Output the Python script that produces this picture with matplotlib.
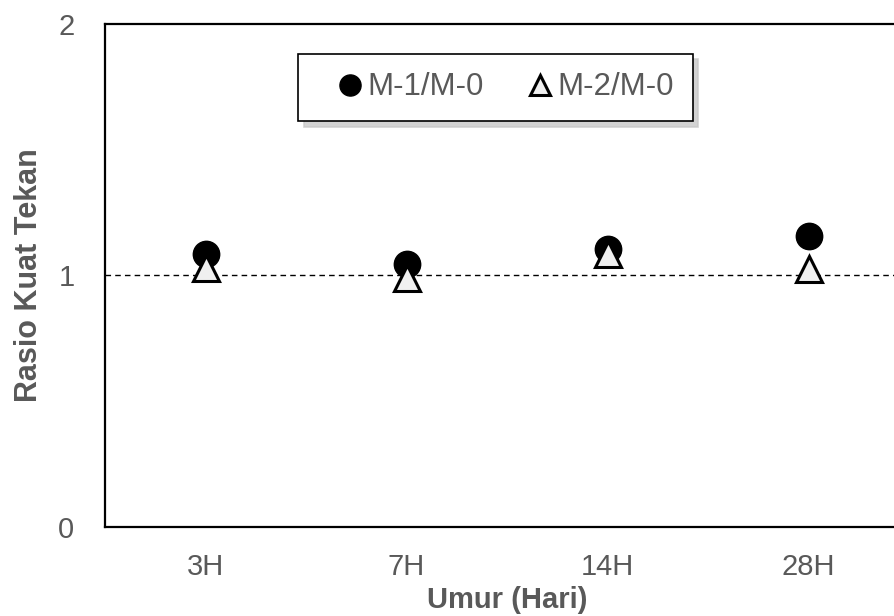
import matplotlib
matplotlib.use("Agg")
import matplotlib.pyplot as plt
import numpy as np

plt.rcParams['font.family'] = ['Liberation Sans', 'DejaVu Sans']

categories = ["3H", "7H", "14H", "28H"]
m1_ratio = [1.087, 1.046, 1.107, 1.158]
m2_ratio = [1.030, 0.992, 1.085, 1.024]
yticks = [0, 1, 2]

fig = plt.figure(figsize=(8.94, 6.16), dpi=100)
ax = fig.add_axes([105/894, 89/616, 804/894, 503/616])

x = np.arange(len(categories)) + 0.5
ax.axhline(1, color='black', lw=1.0, ls=(0, (4, 3)), zorder=1)
ax.plot(x, m1_ratio, 'o', ms=19, color='black', mec='black', zorder=3, label='M-1/M-0')
ax.plot(x, m2_ratio, '^', ms=19, mfc='#f0f0f0', mec='black', mew=2.2, zorder=4, label='M-2/M-0')

ax.set_xlim(0, 4)
ax.set_ylim(0, 2)
ax.set_xticks(x)
ax.set_xticklabels(categories)
ax.set_yticks(yticks)
ax.tick_params(length=0, labelsize=21, colors='#595959')
ax.tick_params(axis='x', pad=19)
ax.tick_params(axis='y', pad=22)
for s in ax.spines.values():
    s.set_linewidth(1.6)
    s.set_color('black')

ax.set_xlabel('Umur (Hari)', fontsize=21, fontweight='bold', color='#595959', labelpad=3)
ax.set_ylabel('Rasio Kuat Tekan', fontsize=22, fontweight='bold', color='#595959', labelpad=10)

leg = ax.legend(loc='center', bbox_to_anchor=(0.4857, 0.8738), ncol=2, fontsize=22.5,
                frameon=True, fancybox=False, edgecolor='black', borderpad=0.6,
                handletextpad=-0.52, columnspacing=0.75, handlelength=2.13,
                markerscale=0.8,
                shadow={'ox': 4, 'oy': -4, 'color': '#c8c8c8', 'alpha': 0.8})
leg.get_frame().set_linewidth(1.2)
for t in leg.get_texts():
    t.set_color('#595959')
leg.legend_handles[1].set_markersize(15)

fig.savefig('out.png', dpi=100)
